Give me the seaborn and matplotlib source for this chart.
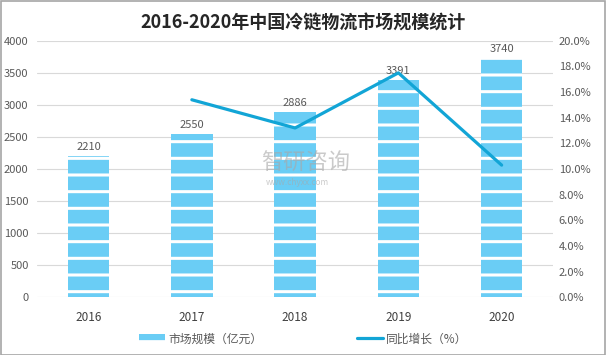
import matplotlib
matplotlib.use("Agg")
import matplotlib.pyplot as plt
import seaborn as sns
import pandas as pd
import numpy as np
from matplotlib.lines import Line2D
from matplotlib.patches import Patch

years = ["2016", "2017", "2018", "2019", "2020"]
market = [2210, 2550, 2886, 3391, 3740]
growth_years = ["2017", "2018", "2019", "2020"]
growth = [15.4, 13.2, 17.5, 10.3]

bar_color = "#6ACDF5"
line_color = "#12A5D6"
text_color = "#595959"

sns.set_style("white")
plt.rcParams["font.family"] = ["Noto Sans CJK SC", "DejaVu Sans"]
plt.rcParams["hatch.linewidth"] = 2.2

fig = plt.figure(figsize=(6.06, 3.55), dpi=100)
ax = fig.add_axes([0.061, 0.163, 0.852, 0.722])

df = pd.DataFrame({"year": years, "market": market})
sns.barplot(data=df, x="year", y="market", color=bar_color, width=0.4,
            saturation=1, ax=ax, zorder=2)
for p in ax.patches:
    p.set_hatch("-")
    p.set_edgecolor("white")
    p.set_linewidth(0)

for i, v in enumerate(market):
    ax.text(i, v + 60, str(v), ha="center", va="bottom", fontsize=8,
            color=text_color, zorder=5)

ax.set_ylim(0, 4000)
ax.set_yticks(range(0, 4001, 500))
ax.set_xlim(-0.5, len(years) - 0.5)
ax.grid(axis="y", color="#D9D9D9", linewidth=0.8, zorder=0)
ax.set_axisbelow(True)
for s in ax.spines.values():
    s.set_visible(False)
ax.set_xlabel("")
ax.set_ylabel("")
ax.tick_params(axis="y", labelsize=8, labelcolor=text_color, length=0, pad=6)
ax.tick_params(axis="x", labelsize=8.5, labelcolor="#404040", length=0, pad=10)

ax2 = ax.twinx()
gx = [years.index(y) for y in growth_years]
sns.lineplot(x=gx, y=growth, color=line_color, linewidth=2.3, ax=ax2, zorder=4)
ax2.set_ylim(0, 20)
ax2.set_yticks(np.arange(0, 20.1, 2))
ax2.set_yticklabels([f"{t:.1f}%" for t in np.arange(0, 20.1, 2)])
ax2.tick_params(axis="y", labelsize=8, labelcolor=text_color, length=0, pad=4)
for s in ax2.spines.values():
    s.set_visible(False)
ax2.set_xlim(-0.5, len(years) - 0.5)

fig.text(0.5, 0.935, "2016-2020年中国冷链物流市场规模统计", ha="center", va="center",
         fontsize=13, fontweight="bold", color="#262626")

# watermark
fig.text(0.505, 0.54, "智研咨询", ha="center", va="center", fontsize=16,
         color="#A8A8A8", alpha=0.6, zorder=10)
fig.text(0.49, 0.485, "www.chyxx.com", ha="center", va="center", fontsize=6,
         color="#A8A8A8", alpha=0.6, zorder=10)

handles = [Patch(facecolor=bar_color, edgecolor="white", hatch="-", linewidth=0),
           Line2D([0], [0], color=line_color, linewidth=2.3)]
fig.legend(handles, ["市场规模（亿元）", "同比增长（%）"], loc="center",
           bbox_to_anchor=(0.5, 0.045), ncol=2, frameon=False, fontsize=8.5,
           handlelength=2.2, columnspacing=8, labelcolor=text_color,
           handletextpad=0.3)

fig.patches.append(plt.Rectangle((0.001, 0.001), 0.997, 0.997, transform=fig.transFigure,
                                 fill=False, edgecolor="#A6A6A6", linewidth=1.2))

fig.savefig("out.png", dpi=100)
